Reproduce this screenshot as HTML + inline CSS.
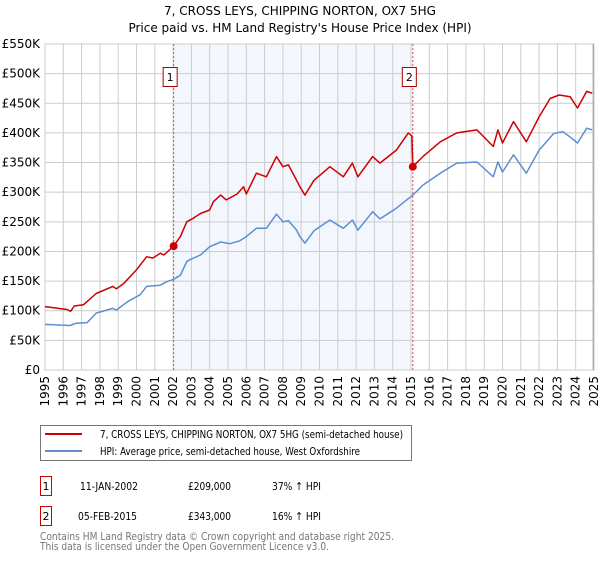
<!DOCTYPE html>
<html><head><meta charset="utf-8"><style>
body{margin:0;background:#fff;font-family:"Liberation Sans","DejaVu Sans",sans-serif;}
svg text{font-family:"DejaVu Sans","Liberation Sans",sans-serif;}
</style></head><body>
<svg id="chart" width="600" height="560" viewBox="0 0 600 560">
<text x="300" y="15" text-anchor="middle" font-size="12" fill="#000">7, CROSS LEYS, CHIPPING NORTON, OX7 5HG</text>
<text x="300" y="32" text-anchor="middle" font-size="12" fill="#000">Price paid vs. HM Land Registry's House Price Index (HPI)</text>
<g id="plot"></g>
<g>
<rect x="40.5" y="425.5" width="371" height="35" fill="#fff" stroke="#777"/>
<line x1="45" y1="434" x2="82" y2="434" stroke="#cc0000" stroke-width="2"/>
<text x="100" y="438" font-size="11" textLength="303" lengthAdjust="spacingAndGlyphs">7, CROSS LEYS, CHIPPING NORTON, OX7 5HG (semi-detached house)</text>
<line x1="45" y1="451" x2="82" y2="451" stroke="#5b8fd4" stroke-width="2"/>
<text x="100" y="455" font-size="11" textLength="260" lengthAdjust="spacingAndGlyphs">HPI: Average price, semi-detached house, West Oxfordshire</text>
</g>
<g font-size="11">
<rect x="40.5" y="476.5" width="11" height="19" fill="#fff" stroke="#cc0000"/>
<text x="46" y="490" text-anchor="middle">1</text>
<text x="80" y="490" textLength="58" lengthAdjust="spacingAndGlyphs">11-JAN-2002</text><text x="188" y="490" textLength="43" lengthAdjust="spacingAndGlyphs">£209,000</text><text x="272" y="490" textLength="49" lengthAdjust="spacingAndGlyphs">37% ↑ HPI</text>
<rect x="40.5" y="506.5" width="11" height="19" fill="#fff" stroke="#cc0000"/>
<text x="46" y="520" text-anchor="middle">2</text>
<text x="78" y="520" textLength="59" lengthAdjust="spacingAndGlyphs">05-FEB-2015</text><text x="188" y="520" textLength="43" lengthAdjust="spacingAndGlyphs">£343,000</text><text x="272" y="520" textLength="49" lengthAdjust="spacingAndGlyphs">16% ↑ HPI</text>
</g>
<text x="40" y="540" font-size="11" fill="#777" textLength="354" lengthAdjust="spacingAndGlyphs">Contains HM Land Registry data © Crown copyright and database right 2025.</text>
<text x="40" y="550" font-size="11" fill="#777" textLength="289" lengthAdjust="spacingAndGlyphs">This data is licensed under the Open Government Licence v3.0.</text>
</svg>
<script>
const yTicks=[0,50,100,150,200,250,300,350,400,450,500,550];
const yLabels=["£0","£50K","£100K","£150K","£200K","£250K","£300K","£350K","£400K","£450K","£500K","£550K"];
const xYears=[1995,1996,1997,1998,1999,2000,2001,2002,2003,2004,2005,2006,2007,2008,2009,2010,2011,2012,2013,2014,2015,2016,2017,2018,2019,2020,2021,2022,2023,2024,2025];
const saleDates=[2002.03,2015.1];
const saleValues=[209,343];
const saleLabels=["1","2"];
const redDates=[1995,1996.2,1996.4,1996.6,1997.1,1997.8,1998.7,1998.9,1999.3,2000.0,2000.55,2000.9,2001.3,2001.5,2002.03,2002.4,2002.75,2003.1,2003.5,2004.0,2004.2,2004.6,2004.9,2005.5,2005.85,2006.0,2006.55,2007.1,2007.65,2008.0,2008.3,2008.75,2008.93,2009.2,2009.7,2010.57,2011.3,2011.8,2012.1,2012.9,2013.3,2014.2,2014.85,2015.05,2015.1,2015.65,2016.6,2017.5,2018.6,2019.5,2019.75,2020.0,2020.6,2021.3,2022.0,2022.6,2023.1,2023.7,2024.1,2024.6,2024.9];
const redValues=[107,102,99,108,110,129,141,137,146,169,191,189,197,194,209,225,250,256,264,270,284,295,287,297,309,297,332,326,360,343,346,320,309,295,320,343,326,349,326,360,349,371,400,395,343,360,385,400,405,377,405,383,419,385,427,458,464,461,442,470,467];
const blueDates=[1995,1996.37,1996.7,1997.3,1997.8,1998.7,1998.9,1999.5,2000.2,2000.55,2001.3,2001.65,2002.03,2002.4,2002.75,2002.9,2003.5,2004.0,2004.6,2005.1,2005.65,2006.0,2006.55,2007.1,2007.65,2008.0,2008.3,2008.75,2008.93,2009.2,2009.7,2010.57,2011.3,2011.8,2012.1,2012.9,2013.3,2014.2,2015.1,2015.65,2016.6,2017.5,2018.6,2019.5,2019.75,2020.0,2020.6,2021.3,2022.0,2022.8,2023.3,2023.7,2024.1,2024.6,2024.9];
const blueValues=[77,75,79,80,96,104,101,115,127,141,143,149,153,160,183,186,194,208,216,213,218,225,239,239,263,250,252,236,225,214,235,253,239,253,236,267,255,273,295,312,332,349,351,326,351,334,363,332,371,399,402,393,383,408,405];

const X0=45,X1=594,Y0=370,Y1=44,XMIN=1995,XMAX=2025,YMAX=550;
const xs=d=>X0+(d-XMIN)/(XMAX-XMIN)*(X1-X0);
const ys=v=>Y0-v/YMAX*(Y0-Y1);
const NS="http://www.w3.org/2000/svg";
const g=document.getElementById('plot');
function mk(tag,attrs,parent){const e=document.createElementNS(NS,tag);for(const k in attrs)e.setAttribute(k,attrs[k]);(parent||g).appendChild(e);return e;}

const shade=mk('rect',{x:xs(saleDates[0]),y:Y1,width:xs(saleDates[1])-xs(saleDates[0]),height:Y0-Y1,fill:'#eef3fc',opacity:0.7});


yTicks.forEach((t,i)=>{
  const l=mk('line',{x1:X0,x2:X1,y1:ys(t),y2:ys(t),stroke:'#ccc','stroke-width':1});
  
  
  const tx=mk('text',{x:X0-5,y:ys(t)+4,'text-anchor':'end','font-size':12,fill:'#000'});
  tx.textContent=yLabels[i];
  
  
});
xYears.forEach(yr=>{
  const l=mk('line',{x1:xs(yr),x2:xs(yr),y1:Y1,y2:Y0,stroke:'#ccc','stroke-width':1});
  
  
  const tx=mk('text',{x:0,y:0,'text-anchor':'end','font-size':12,fill:'#000',transform:`translate(${xs(yr)+4},${Y0+6}) rotate(-90)`});
  tx.textContent=yr;
  
  
});
const frame=mk('rect',{x:X0,y:Y1,width:X1-X0,height:Y0-Y1,fill:'none',stroke:'#ccc'});


const endl=mk('line',{x1:xs(2024.9)+1,x2:xs(2024.9)+1,y1:Y1,y2:Y0,stroke:'#999'});


saleDates.forEach((d,i)=>{
  const l=mk('line',{x1:xs(d),x2:xs(d),y1:Y1,y2:Y0,stroke:'#e05050','stroke-dasharray':'2,2','stroke-width':1});
  
  
});
function path(ds,vs,color,name){
  const p=mk('path',{d:ds.map((d,i)=>(i?'L':'M')+xs(d).toFixed(1)+','+ys(vs[i]).toFixed(1)).join(''),fill:'none',stroke:color,'stroke-width':1.5,'stroke-linejoin':'round'});
  
  
}
path(blueDates,blueValues,'#5b8fd4','hpi-line');
path(redDates,redValues,'#cc0000','property-price-line');
saleDates.forEach((d,i)=>{
  const c=mk('circle',{cx:xs(d),cy:ys(saleValues[i]),r:4,fill:'#cc0000'});
  
  
  const r=mk('rect',{x:xs(d)-10.5,y:67.5,width:14,height:19,fill:'#fff',stroke:'#aa0000'});
  
  
  const t=mk('text',{x:xs(d)-3.5,y:81,'text-anchor':'middle','font-size':11});
  t.textContent=saleLabels[i];
  
  
});
</script>
</body></html>
